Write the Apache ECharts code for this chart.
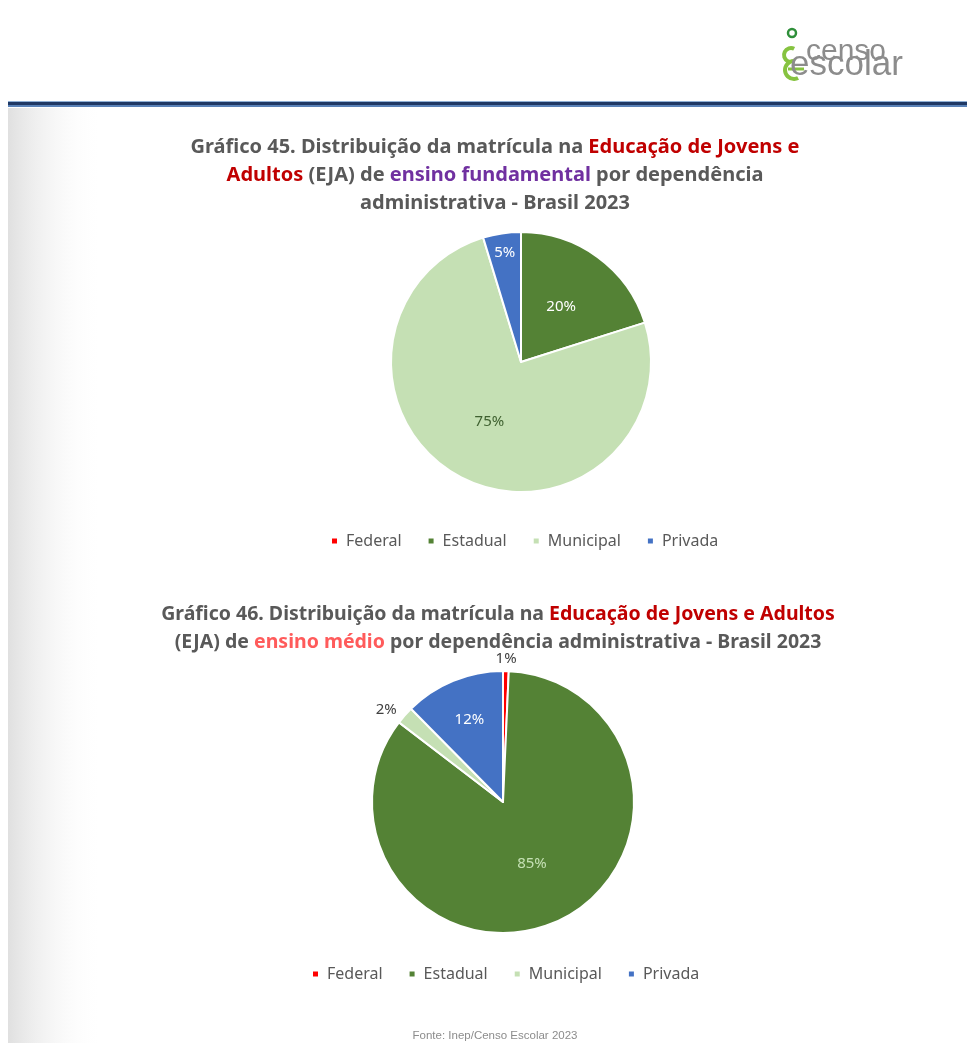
<!DOCTYPE html>
<html>
<head>
<meta charset="utf-8">
<script src="https://cdn.jsdelivr.net/npm/echarts@6/dist/echarts.min.js"></script>
<style>
html,body{margin:0;padding:0;background:#fff}
#main{width:967px;height:1043px}
</style>
</head>
<body>
<div id="main"></div>
<script>
// dependências administrativas
var categorias = ['Federal', 'Estadual', 'Municipal', 'Privada'];
var cores = ['#ff0000', '#548235', '#c5e0b4', '#4472c4'];
// Gráfico 45 - EJA ensino fundamental (%)
var fundamental = [0, 20.1, 75.2, 4.7];
// Gráfico 46 - EJA ensino médio (%)
var medio = [0.7, 84.7, 2.2, 12.4];

var fonte = '"Noto Sans", "Open Sans", sans-serif';

function pct(p) {
    if (!p.value) return '';
    return Math.round(p.percent) + '%';
}

// tipos de rotulo: in = dentro, out = fora, ring/outer = series so de rotulo
function montaDados(valores, tipos, coresTexto) {
    return categorias.map(function (nome, i) {
        var lbl;
        if (tipos[i] === 'in') {
            lbl = {show: true, position: 'inside', color: coresTexto[i]};
        } else if (tipos[i] === 'out') {
            lbl = {show: true, position: 'outside', color: coresTexto[i]};
        } else {
            lbl = {show: false};
        }
        return {name: nome, value: valores[i], itemStyle: {color: cores[i]}, label: lbl};
    });
}

function montaRotulos(valores, tipos, coresTexto, qual) {
    return categorias.map(function (nome, i) {
        return {
            name: nome, value: valores[i],
            label: tipos[i] === qual ? {show: true, color: coresTexto[i]} : {show: false}
        };
    });
}

function seriePizza(centro, raio, valores, tipos, coresTexto) {
    return {
        type: 'pie',
        center: centro,
        radius: [0, raio],
        startAngle: 90,
        clockwise: true,
        avoidLabelOverlap: false,
        itemStyle: {borderColor: '#ffffff', borderWidth: 2},
        label: {fontFamily: fonte, fontSize: 15, formatter: pct, distanceToLabelLine: 2},
        labelLine: {show: false, length: 8, length2: 0},
        emphasis: {disabled: true},
        data: montaDados(valores, tipos, coresTexto)
    };
}

function serieRotulo(centro, raioInterno, raio, valores, tipos, coresTexto, qual) {
    return {
        type: 'pie',
        center: centro,
        radius: [raioInterno, raio],
        startAngle: 90,
        clockwise: true,
        silent: true,
        legendHoverLink: false,
        avoidLabelOverlap: false,
        itemStyle: {color: 'rgba(0,0,0,0)', borderWidth: 0},
        label: {position: 'inside', fontFamily: fonte, fontSize: 15, formatter: pct},
        labelLine: {show: false},
        emphasis: {disabled: true},
        data: montaRotulos(valores, tipos, coresTexto, qual)
    };
}

var tipos45 = ['none', 'in', 'in', 'ring'];
var texto45 = ['#404040', '#ffffff', '#3f6130', '#ffffff'];
var tipos46 = ['outer', 'in', 'out', 'ring'];
var texto46 = ['#404040', '#c5e0b4', '#404040', '#ffffff'];

function richTitulo(tam) {
    function st(cor) {
        return {color: cor, fontWeight: 'bold', fontSize: tam, fontFamily: fonte, lineHeight: 28};
    }
    return {g: st('#595959'), r: st('#c00000'), p: st('#7030a0'), s: st('#ff5b5b')};
}

var legendaBase = {
    orient: 'horizontal',
    icon: 'rect',
    itemWidth: 7,
    itemHeight: 7,
    itemGap: 25,
    padding: 0,
    data: categorias,
    selectedMode: false,
    textStyle: {color: '#595959', fontSize: 16, fontFamily: fonte, padding: [0, 0, 0, 3]}
};

var verde = '#86c340';

var chart = echarts.init(document.getElementById('main'));
chart.setOption({
    backgroundColor: '#ffffff',
    animation: false,
    title: [{
        text: '{g|Gráfico 45. Distribuição da matrícula na }{r|Educação de Jovens e}\n' +
              '{r|Adultos}{g| (EJA) de }{p|ensino fundamental}{g| por dependência}\n' +
              '{g|administrativa - Brasil 2023}',
        left: 490, top: 128, textAlign: 'center',
        textStyle: {rich: richTitulo(20), lineHeight: 28}
    }, {
        text: '{g|Gráfico 46. Distribuição da matrícula na }{r|Educação de Jovens e Adultos}\n' +
              '{g|(EJA) de }{s|ensino médio}{g| por dependência administrativa - Brasil 2023}',
        left: 493, top: 595, textAlign: 'center',
        textStyle: {rich: richTitulo(19.5), lineHeight: 28}
    }],
    legend: [
        Object.assign({left: 330, top: 533}, legendaBase),
        Object.assign({left: 311, top: 966}, legendaBase)
    ],
    graphic: [
        // sombra lateral esquerda
        {type: 'rect', shape: {x: 8, y: 108, width: 95, height: 935}, silent: true, z: -10,
         style: {fill: new echarts.graphic.LinearGradient(0, 0, 1, 0, [
             {offset: 0, color: 'rgba(222,222,222,0.95)'},
             {offset: 1, color: 'rgba(255,255,255,0)'}])}},
        // linha do cabeçalho
        {type: 'rect', shape: {x: 8, y: 101, width: 959, height: 1}, style: {fill: '#8fb0d6'}, silent: true},
        {type: 'rect', shape: {x: 8, y: 102, width: 959, height: 3}, style: {fill: '#1f3864'}, silent: true},
        {type: 'rect', shape: {x: 8, y: 105, width: 959, height: 2}, style: {fill: '#5a82b8'}, silent: true},
        // logo censo escolar
        {type: 'circle', shape: {cx: 792, cy: 33, r: 4}, style: {fill: 'none', stroke: '#2f8f3a', lineWidth: 2.5}, silent: true},
        {type: 'arc', shape: {cx: 791, cy: 55, r: 7, startAngle: -1.1, endAngle: 1.7, clockwise: false},
         style: {fill: 'none', stroke: verde, lineWidth: 4}, silent: true},
        {type: 'arc', shape: {cx: 794, cy: 70, r: 9, startAngle: -1.6, endAngle: 1.1, clockwise: false},
         style: {fill: 'none', stroke: verde, lineWidth: 4}, silent: true},
        {type: 'line', shape: {x1: 788, y1: 69, x2: 804, y2: 69}, style: {stroke: verde, lineWidth: 3}, silent: true},
        {type: 'text', x: 806, y: 67, silent: true,
         style: {text: 'censo', fill: '#8c8c8c', font: '30px "Liberation Sans", Arial, sans-serif', textVerticalAlign: 'bottom'}},
        {type: 'text', x: 790, y: 83, silent: true,
         style: {text: 'escolar', fill: '#8c8c8c', font: '35px "Liberation Sans", Arial, sans-serif', textVerticalAlign: 'bottom'}},
        // fonte
        {type: 'text', x: 495, y: 1036, silent: true,
         style: {text: 'Fonte: Inep/Censo Escolar 2023', fill: '#8c8c8c', font: '11.5px "Liberation Sans", Arial, sans-serif',
                 textAlign: 'center', textVerticalAlign: 'middle'}}
    ],
    series: [
        seriePizza([521, 362], 130, fundamental, tipos45, texto45),
        serieRotulo([521, 362], 84, 130, fundamental, tipos45, texto45, 'ring'),
        seriePizza([503, 802], 131, medio, tipos46, texto46),
        serieRotulo([503, 802], 40, 131, medio, tipos46, texto46, 'ring'),
        serieRotulo([503, 802], 131, 149, medio, tipos46, texto46, 'outer')
    ]
});
</script>
</body>
</html>
